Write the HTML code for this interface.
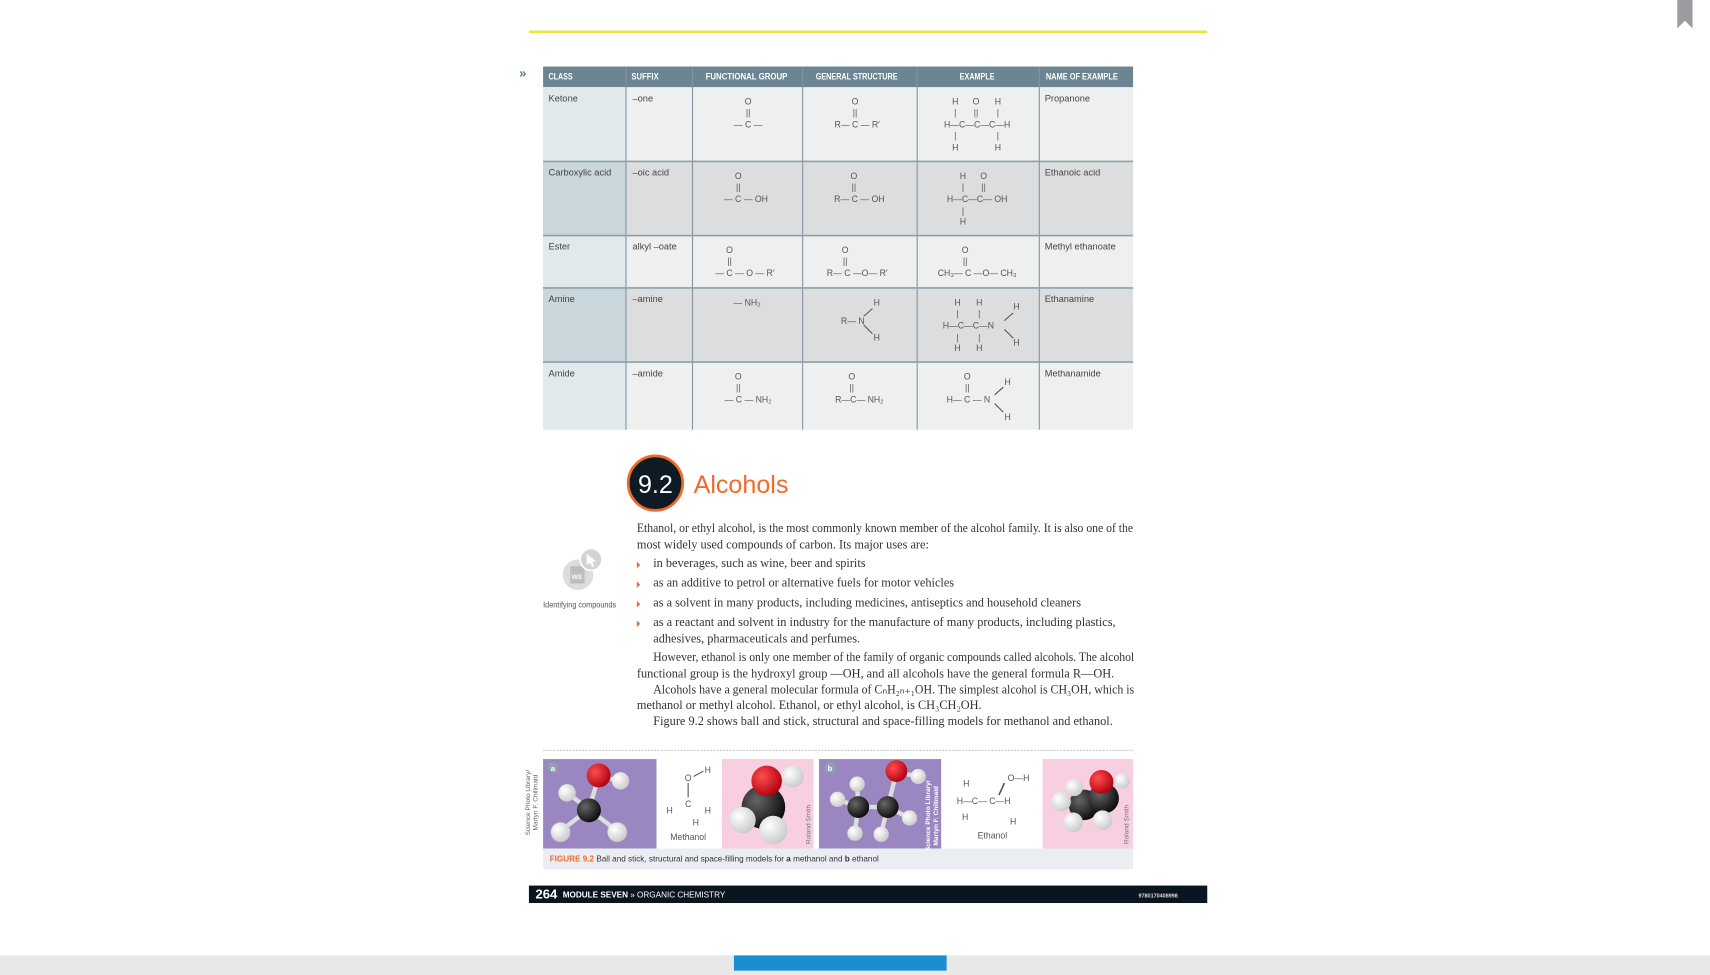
<!DOCTYPE html>
<html><head><meta charset="utf-8"><style>
html,body{margin:0;padding:0;background:#fff;width:1710px;height:975px;overflow:hidden}
svg{display:block}
.h{font-family:"Liberation Sans Narrow","Liberation Sans",sans-serif;font-weight:bold;font-size:8px;fill:#fff}
.c{font-family:"Liberation Sans",sans-serif;font-size:8.5px;fill:#444}
.m{font-family:"Liberation Sans",sans-serif;font-size:8px;fill:#555}
.b{font-family:"Liberation Serif",serif;font-size:11.3px;fill:#333}
</style></head><body>
<svg width="1710" height="975" viewBox="0 0 1568 894" preserveAspectRatio="none">
<defs>
<radialGradient id="gw" cx="35%" cy="35%" r="70%"><stop offset="0" stop-color="#fff"/><stop offset="1" stop-color="#c9c9c9"/></radialGradient>
<radialGradient id="gr" cx="35%" cy="35%" r="70%"><stop offset="0" stop-color="#ff4d4d"/><stop offset="1" stop-color="#b00010"/></radialGradient>
<radialGradient id="gk" cx="35%" cy="35%" r="70%"><stop offset="0" stop-color="#666"/><stop offset="1" stop-color="#0a0a0a"/></radialGradient>
</defs>
<rect x="485" y="28" width="622" height="2.5" fill="#f0e43c"/>
<path d="M1538 0H1552V26L1545 19L1538 26Z" fill="#9a9ca0"/>
<text x="476" y="71" font-family="Liberation Sans" font-weight="bold" font-size="12" fill="#5b7a8a">»</text>

<g>
<rect x="498" y="61" width="541" height="19" fill="#6b8592"/>
<rect x="498" y="80" width="541" height="68" fill="#eeefef"/>
<rect x="498" y="148" width="541" height="68" fill="#dcdddf"/>
<rect x="498" y="216" width="541" height="48" fill="#eeefef"/>
<rect x="498" y="264" width="541" height="68" fill="#dcdddf"/>
<rect x="498" y="332" width="541" height="62" fill="#eeefef"/>
<rect x="498" y="80" width="76" height="68" fill="#e2e9ed"/>
<rect x="498" y="148" width="76" height="68" fill="#c9d6dc"/>
<rect x="498" y="216" width="76" height="48" fill="#e2e9ed"/>
<rect x="498" y="264" width="76" height="68" fill="#c9d6dc"/>
<rect x="498" y="332" width="76" height="62" fill="#e2e9ed"/>
<g stroke="#7f96a2" stroke-width="1">
<line x1="574" y1="61" x2="574" y2="394"/><line x1="635" y1="61" x2="635" y2="394"/><line x1="736" y1="61" x2="736" y2="394"/><line x1="841" y1="61" x2="841" y2="394"/><line x1="953" y1="61" x2="953" y2="394"/>
</g>
<g stroke="#8aa0ab" stroke-width="1.5">
<line x1="498" y1="148" x2="1039" y2="148"/><line x1="498" y1="216" x2="1039" y2="216"/><line x1="498" y1="264" x2="1039" y2="264"/><line x1="498" y1="332" x2="1039" y2="332"/>
</g>
<text class="h" x="503" y="73" textLength="22" lengthAdjust="spacingAndGlyphs">CLASS</text>
<text class="h" x="579" y="73" textLength="25" lengthAdjust="spacingAndGlyphs">SUFFIX</text>
<text class="h" x="647" y="73" textLength="75" lengthAdjust="spacingAndGlyphs">FUNCTIONAL   GROUP</text>
<text class="h" x="748" y="73" textLength="75" lengthAdjust="spacingAndGlyphs">GENERAL STRUCTURE</text>
<text class="h" x="880" y="73" textLength="32" lengthAdjust="spacingAndGlyphs">EXAMPLE</text>
<text class="h" x="959" y="73" textLength="66" lengthAdjust="spacingAndGlyphs">NAME OF EXAMPLE</text>

<g class="c">
<text x="503" y="93">Ketone</text>
<text x="580" y="93">–one</text>
<text x="958" y="93">Propanone</text>
<text x="503" y="161">Carboxylic acid</text>
<text x="580" y="161">–oic acid</text>
<text x="958" y="161">Ethanoic acid</text>
<text x="503" y="229">Ester</text>
<text x="580" y="229">alkyl –oate</text>
<text x="958" y="229">Methyl ethanoate</text>
<text x="503" y="277">Amine</text>
<text x="580" y="277">–amine</text>
<text x="958" y="277">Ethanamine</text>
<text x="503" y="345">Amide</text>
<text x="580" y="345">–amide</text>
<text x="958" y="345">Methanamide</text>
</g>

<g class="m" text-anchor="middle">
<g><text x="686" y="96">O</text><text x="686" y="106">||</text><text x="686" y="117">— C —</text></g>
<g><text x="784" y="96">O</text><text x="784" y="106">||</text><text x="786" y="117">R— C — R′</text></g>
<g><text x="876" y="96">H</text><text x="895" y="96">O</text><text x="915" y="96">H</text>
<text x="876" y="106">|</text><text x="895" y="106">||</text><text x="915" y="106">|</text>
<text x="896" y="117">H—C—C—C—H</text>
<text x="876" y="127">|</text><text x="915" y="127">|</text><text x="876" y="138">H</text><text x="915" y="138">H</text></g>

<g><text x="677" y="164">O</text><text x="677" y="174">||</text><text x="684" y="185">— C — OH</text></g>
<g><text x="783" y="164">O</text><text x="783" y="174">||</text><text x="788" y="185">R— C — OH</text></g>
<g><text x="883" y="164">H</text><text x="902" y="164">O</text><text x="883" y="174">|</text><text x="902" y="174">||</text>
<text x="896" y="185">H—C—C— OH</text><text x="883" y="196">|</text><text x="883" y="206">H</text></g>

<g><text x="669" y="232">O</text><text x="669" y="242">||</text><text x="683" y="253">— C — O — R′</text></g>
<g><text x="775" y="232">O</text><text x="775" y="242">||</text><text x="786" y="253">R— C —O— R′</text></g>
<g><text x="885" y="232">O</text><text x="885" y="242">||</text><text x="896" y="253">CH₃— C —O— CH₃</text></g>

<g><text x="685" y="280">— NH₂</text></g>
<g><text x="804" y="280">H</text><text x="782" y="297">R— N</text><line x1="792" y1="290" x2="800" y2="283" stroke="#555"/><line x1="792" y1="298" x2="800" y2="306" stroke="#555"/><text x="804" y="312">H</text></g>
<g><text x="878" y="280">H</text><text x="898" y="280">H</text><text x="932" y="284">H</text>
<text x="878" y="290">|</text><text x="898" y="290">|</text>
<text x="888" y="301">H—C—C—N</text><line x1="921" y1="294" x2="929" y2="287" stroke="#555"/><line x1="921" y1="302" x2="929" y2="310" stroke="#555"/>
<text x="878" y="312">|</text><text x="898" y="312">|</text><text x="878" y="322">H</text><text x="898" y="322">H</text><text x="932" y="317">H</text></g>

<g><text x="677" y="348">O</text><text x="677" y="358">||</text><text x="686" y="369">— C — NH₂</text></g>
<g><text x="781" y="348">O</text><text x="781" y="358">||</text><text x="788" y="369">R—C— NH₂</text></g>
<g><text x="887" y="348">O</text><text x="887" y="358">||</text><text x="888" y="369">H— C — N</text><line x1="912" y1="362" x2="920" y2="355" stroke="#555"/><line x1="912" y1="370" x2="920" y2="378" stroke="#555"/><text x="924" y="353">H</text><text x="924" y="385">H</text></g>
</g>
</g>

<g>
<circle cx="601" cy="443" r="25" fill="#0e1a24" stroke="#f06a2a" stroke-width="2.5"/>
<text x="601" y="452" text-anchor="middle" font-family="Liberation Sans" font-size="23" fill="#fff">9.2</text>
<text x="636" y="452" font-family="Liberation Sans" font-size="23" fill="#f26a2b">Alcohols</text>
</g>

<g>
<circle cx="530" cy="527" r="14" fill="#dcdcdc"/>
<rect x="523" y="519" width="13" height="16" fill="#bdbdbd"/>
<text x="529" y="531" text-anchor="middle" font-family="Liberation Sans" font-weight="bold" font-size="6" fill="#fff">WS</text>
<circle cx="542" cy="513" r="10" fill="#d3d3d3" stroke="#fff" stroke-width="1.5"/>
<path d="M538 508L547 515L543 515L545 519L543 520L541 516L538 518Z" fill="#fff"/>
<text x="498" y="557" textLength="67" lengthAdjust="spacingAndGlyphs" font-family="Liberation Sans Narrow,Liberation Sans" font-size="7.5" fill="#555">Identifying compounds</text>
</g>

<g class="b">
<text x="584" y="488" textLength="455" lengthAdjust="spacingAndGlyphs">Ethanol, or ethyl alcohol, is the most commonly known member of the alcohol family. It is also one of the</text>
<text x="584" y="503">most widely used compounds of carbon. Its major uses are:</text>
<text x="599" y="520">in beverages, such as wine, beer and spirits</text>
<text x="599" y="538">as an additive to petrol or alternative fuels for motor vehicles</text>
<text x="599" y="556">as a solvent in many products, including medicines, antiseptics and household cleaners</text>
<text x="599" y="574" textLength="424" lengthAdjust="spacingAndGlyphs">as a reactant and solvent in industry for the manufacture of many products, including plastics,</text>
<text x="599" y="589">adhesives, pharmaceuticals and perfumes.</text>
<text x="599" y="606" textLength="441" lengthAdjust="spacingAndGlyphs">However, ethanol is only one member of the family of organic compounds called alcohols. The alcohol</text>
<text x="584" y="621">functional group is the hydroxyl group —OH, and all alcohols have the general formula R—OH.</text>
<text x="599" y="636" textLength="441" lengthAdjust="spacingAndGlyphs">Alcohols have a general molecular formula of CₙH₂ₙ₊₁OH. The simplest alcohol is CH₃OH, which is</text>
<text x="584" y="650">methanol or methyl alcohol. Ethanol, or ethyl alcohol, is CH₃CH₂OH.</text>
<text x="599" y="665">Figure 9.2 shows ball and stick, structural and space-filling models for methanol and ethanol.</text>
</g>
<g fill="#f26a2b">
<path d="M584 515l3 3-3 3z"/><path d="M584 533l3 3-3 3z"/><path d="M584 551l3 3-3 3z"/><path d="M584 569l3 3-3 3z"/>
</g>

<g>
<line x1="498" y1="688" x2="1039" y2="688" stroke="#ccc" stroke-width="1" stroke-dasharray="2 1"/>
<rect x="498" y="778" width="541" height="19" fill="#eaeef2"/>
<text x="504" y="790" font-family="Liberation Sans Narrow,Liberation Sans" font-size="7.5" fill="#333"><tspan fill="#f26a2b" font-weight="bold">FIGURE 9.2</tspan>  Ball and stick, structural and space-filling models for <tspan font-weight="bold">a</tspan> methanol and <tspan font-weight="bold">b</tspan> ethanol</text>
<text transform="translate(486,736) rotate(-90)" text-anchor="middle" font-family="Liberation Sans" font-size="6" fill="#666">Science Photo Library/</text>
<text transform="translate(493,736) rotate(-90)" text-anchor="middle" font-family="Liberation Sans" font-size="6" fill="#666">Martyn F. Chillmaid</text>

<g>
<rect x="498" y="696" width="104" height="82" fill="#9a86c0"/>
<g stroke="#ddd" stroke-width="4"><line x1="540" y1="742" x2="549" y2="712"/><line x1="549" y1="712" x2="569" y2="716"/><line x1="540" y1="742" x2="520" y2="727"/><line x1="540" y1="742" x2="514" y2="762"/><line x1="540" y1="742" x2="566" y2="762"/></g>
<circle cx="549" cy="711" r="11" fill="url(#gr)"/><circle cx="569" cy="716" r="8" fill="url(#gw)"/><circle cx="520" cy="727" r="8" fill="url(#gw)"/><circle cx="540" cy="743" r="11" fill="url(#gk)"/><circle cx="514" cy="763" r="9" fill="url(#gw)"/><circle cx="566" cy="763" r="9" fill="url(#gw)"/>
<circle cx="507" cy="704" r="5" fill="#8fa3ad"/><text x="507" y="707" text-anchor="middle" font-family="Liberation Sans" font-weight="bold" font-size="7" fill="#fff">a</text>
</g>
<g class="m" text-anchor="middle">
<text x="631" y="716">O</text><text x="649" y="709">H</text><line x1="636" y1="712" x2="645" y2="707" stroke="#555"/>
<line x1="631" y1="718" x2="631" y2="731" stroke="#555"/><text x="631" y="740">C</text>
<text x="614" y="746">H</text><text x="649" y="746">H</text><text x="638" y="757">H</text>
<text x="631" y="770">Methanol</text>
</g>
<g>
<rect x="662" y="696" width="84" height="82" fill="#f8cfe0"/>
<circle cx="700" cy="740" r="20" fill="url(#gk)"/><circle cx="703" cy="716" r="14" fill="url(#gr)"/><circle cx="727" cy="712" r="10" fill="url(#gw)"/>
<circle cx="681" cy="752" r="12" fill="url(#gw)"/><circle cx="709" cy="761" r="13" fill="url(#gw)"/>
<text transform="translate(743,756) rotate(-90)" text-anchor="middle" font-family="Liberation Sans" font-size="6" fill="#777">Roland Smith</text>
</g>
<g>
<rect x="751" y="696" width="112" height="82" fill="#9a86c0"/>
<g stroke="#ddd" stroke-width="4"><line x1="787" y1="740" x2="814" y2="740"/><line x1="814" y1="740" x2="822" y2="708"/><line x1="822" y1="708" x2="842" y2="712"/><line x1="787" y1="740" x2="768" y2="733"/><line x1="787" y1="740" x2="786" y2="719"/><line x1="787" y1="740" x2="784" y2="762"/><line x1="814" y1="740" x2="808" y2="764"/><line x1="814" y1="740" x2="834" y2="750"/></g>
<circle cx="822" cy="707" r="10" fill="url(#gr)"/><circle cx="842" cy="712" r="7" fill="url(#gw)"/>
<circle cx="787" cy="740" r="10" fill="url(#gk)"/><circle cx="814" cy="740" r="10" fill="url(#gk)"/>
<circle cx="768" cy="733" r="7" fill="url(#gw)"/><circle cx="786" cy="719" r="7" fill="url(#gw)"/><circle cx="784" cy="764" r="7" fill="url(#gw)"/><circle cx="808" cy="765" r="7" fill="url(#gw)"/><circle cx="834" cy="750" r="7" fill="url(#gw)"/>
<circle cx="761" cy="704" r="5" fill="#8fa3ad"/><text x="761" y="707" text-anchor="middle" font-family="Liberation Sans" font-weight="bold" font-size="7" fill="#fff">b</text>
<text transform="translate(853,748) rotate(-90)" text-anchor="middle" font-family="Liberation Sans" font-weight="bold" font-size="6" fill="#fff">Science Photo Library/</text>
<text transform="translate(860,748) rotate(-90)" text-anchor="middle" font-family="Liberation Sans" font-weight="bold" font-size="6" fill="#fff">Martyn F. Chillmaid</text>
</g>
<g class="m" text-anchor="middle">
<text x="934" y="716">O—H</text><line x1="921" y1="718" x2="916" y2="729" stroke="#555" stroke-width="1.5"/>
<text x="886" y="721">H</text>
<text x="902" y="737">H—C— C—H</text>
<text x="885" y="752">H</text><text x="929" y="756">H</text>
<text x="910" y="769">Ethanol</text>
</g>
<g>
<rect x="956" y="696" width="83" height="82" fill="#f8cfe0"/>
<circle cx="994" cy="738" r="14" fill="url(#gk)"/><circle cx="1012" cy="732" r="14" fill="url(#gk)"/>
<circle cx="1010" cy="717" r="11" fill="url(#gr)"/><circle cx="1029" cy="716" r="7" fill="url(#gw)"/>
<circle cx="973" cy="735" r="9" fill="url(#gw)"/><circle cx="984" cy="754" r="9" fill="url(#gw)"/><circle cx="1011" cy="752" r="9" fill="url(#gw)"/><circle cx="985" cy="722" r="8" fill="url(#gw)"/>
<text transform="translate(1035,756) rotate(-90)" text-anchor="middle" font-family="Liberation Sans" font-size="6" fill="#777">Roland Smith</text>
</g>
</g>

<g>
<rect x="485" y="812" width="622" height="16" fill="#0b1520"/>
<text x="491" y="824" font-family="Liberation Sans Narrow,Liberation Sans" font-weight="bold" font-size="12" fill="#fff">264</text>
<text x="516" y="823" font-family="Liberation Sans" font-size="7.5" fill="#fff"><tspan font-weight="bold">MODULE SEVEN</tspan> » ORGANIC CHEMISTRY</text>
<text x="1080" y="823" text-anchor="end" font-family="Liberation Sans" font-weight="bold" font-size="5" fill="#ddd">9780170408998</text>
</g>

<rect x="0" y="876" width="1568" height="18" fill="#e8e8e8"/>
<rect x="673" y="876" width="195" height="14" fill="#1a8fd0"/>
</svg>
</body></html>
